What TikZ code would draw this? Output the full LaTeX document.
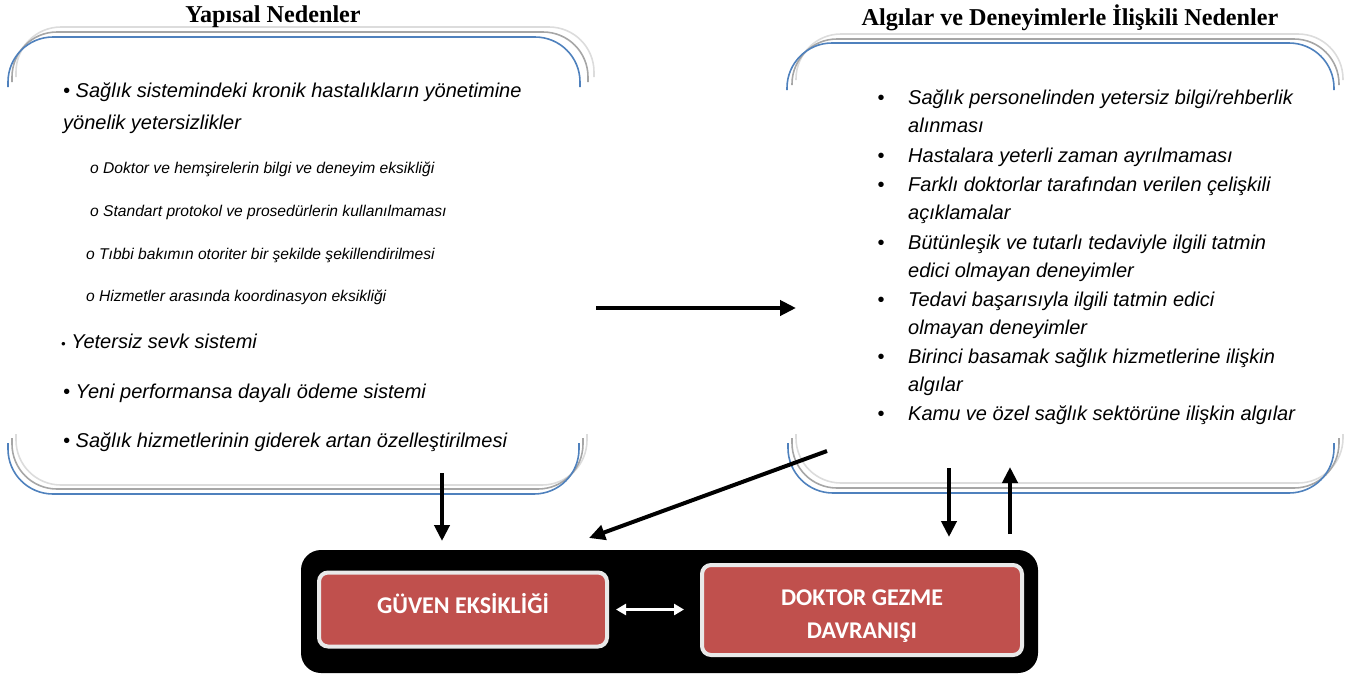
\documentclass[tikz,border=0pt]{standalone}
\usepackage{fontspec}
\setmainfont{Liberation Sans}
\newfontfamily\titlefont{Liberation Serif}
\newfontfamily\boxfont{Carlito}
\usetikzlibrary{arrows.meta}
\definecolor{brandblue}{HTML}{4F81BD}
\definecolor{midgray}{HTML}{A6A6A6}
\definecolor{lightgray2}{HTML}{DCDCDC}
\definecolor{redfill}{HTML}{C0504D}
\definecolor{boxborder}{HTML}{E9E9E9}
\tikzset{
  itemtext/.style={anchor=base west, inner sep=0pt, font=\fontsize{20}{24}\selectfont\itshape},
  subtext/.style={anchor=base west, inner sep=0pt, font=\fontsize{15.6}{18}\selectfont\itshape},
  bulletdot/.style={anchor=base, inner sep=0pt, font=\fontsize{20}{24}\selectfont},
  titletext/.style={inner sep=0pt, font=\titlefont\bfseries\fontsize{24.2}{28}\selectfont},
  blueline/.style={draw=brandblue, line width=1.6pt, rounded corners=45pt},
  grayline/.style={draw=midgray, line width=1.6pt, rounded corners=45pt},
  lightline/.style={draw=lightgray2, line width=1.6pt, rounded corners=45pt},
  bigarrow/.style={line width=4pt, -{Triangle[length=16pt,width=15pt]}},
  whitearrow/.style={draw=white, line width=3pt, {Triangle[length=10pt,width=11pt]}-{Triangle[length=10pt,width=11pt]}},
  panel/.style={fill=black, rounded corners=20pt, inner sep=0pt},
  redbox/.style={fill=redfill, draw=boxborder, line width=4pt, rounded corners=9pt, inner sep=0pt,
     text=white, font=\boxfont\bfseries\fontsize{24}{33}\selectfont},
}
\begin{document}
\begin{tikzpicture}[x=1pt,y=-1pt]
\useasboundingbox (0,0) rectangle (1349,675);

% ---------- left bracket box ----------
\draw[lightline] (16,77) -- (16,27) -- (594,27) -- (594,77);
\draw[grayline]  (12,82) -- (12,32) -- (588,32) -- (588,82);
\draw[blueline]  (8,87) -- (8,37) -- (580,37) -- (580,87);
\draw[lightline] (16,434) -- (16,485) -- (587,485) -- (587,434);
\draw[grayline]  (12,438) -- (12,489) -- (583,489) -- (583,438);
\draw[blueline]  (8,443) -- (8,494) -- (579,494) -- (579,443);

% ---------- right bracket box ----------
\draw[lightline] (796,80) -- (796,34) -- (1343,34) -- (1343,80);
\draw[grayline]  (792,85) -- (792,39) -- (1339,39) -- (1339,85);
\draw[blueline]  (787,90) -- (787,43) -- (1334,43) -- (1334,90);
\draw[lightline] (796,434) -- (796,483) -- (1343,483) -- (1343,434);
\draw[grayline]  (792,438) -- (792,488) -- (1339,488) -- (1339,438);
\draw[blueline]  (788,443) -- (788,493) -- (1334,493) -- (1334,443);

% ---------- titles ----------
\node[titletext] (ltitle) at (273,17) {Yapısal Nedenler};
\node[titletext] (rtitle) at (1070,18) {Algılar ve Deneyimlerle İlişkili Nedenler};

% ---------- left texts ----------
\node[itemtext] (l1a) at (63,97) {• Sağlık sistemindeki kronik hastalıkların yönetimine};
\node[itemtext] (l1b) at (63,129) {yönelik yetersizlikler};
\node[subtext] (s1) at (90,173) {o Doktor ve hemşirelerin bilgi ve deneyim eksikliği};
\node[subtext] (s2) at (90,216) {o Standart protokol ve prosedürlerin kullanılmaması};
\node[subtext] (s3) at (86,259) {o Tıbbi bakımın otoriter bir şekilde şekillendirilmesi};
\node[subtext] (s4) at (86,301) {o Hizmetler arasında koordinasyon eksikliği};
\node[itemtext] (l2) at (61,348) {{\fontsize{13}{14}\selectfont•} Yetersiz sevk sistemi};
\node[itemtext] (l3) at (63,398) {• Yeni performansa dayalı ödeme sistemi};
\node[itemtext] (l4) at (63,447) {• Sağlık hizmetlerinin giderek artan özelleştirilmesi};

% ---------- right texts ----------
\foreach \yy/\nm in {104/b1,162/b2,191/b3,249/b4,306/b5,363/b6,420/b7}
  \node[bulletdot] (\nm) at (881,\yy) {•};
\node[itemtext] (r1a) at (908,104) {Sağlık personelinden yetersiz bilgi/rehberlik};
\node[itemtext] (r1b) at (908,132) {alınması};
\node[itemtext] (r2)  at (908,162) {Hastalara yeterli zaman ayrılmaması};
\node[itemtext] (r3a) at (908,191) {Farklı doktorlar tarafından verilen çelişkili};
\node[itemtext] (r3b) at (908,219) {açıklamalar};
\node[itemtext] (r4a) at (908,249) {Bütünleşik ve tutarlı tedaviyle ilgili tatmin};
\node[itemtext] (r4b) at (908,277) {edici olmayan deneyimler};
\node[itemtext] (r5a) at (908,306) {Tedavi başarısıyla ilgili tatmin edici};
\node[itemtext] (r5b) at (908,334) {olmayan deneyimler};
\node[itemtext] (r6a) at (908,363) {Birinci basamak sağlık hizmetlerine ilişkin};
\node[itemtext] (r6b) at (908,391) {algılar};
\node[itemtext] (r7)  at (908,420) {Kamu ve özel sağlık sektörüne ilişkin algılar};

% ---------- bottom panel ----------
\node[panel, minimum width=737pt, minimum height=123pt] (panel) at (669.5,611.5) {};
\node[redbox, minimum width=288pt, minimum height=74pt] (trust) at (463,609.5)
  {\raisebox{6pt}[\height][\depth]{GÜVEN EKSİKLİĞİ}};
\node[redbox, minimum width=320pt, minimum height=90pt] (doctor) at (862,610)
  {\raisebox{-5.5pt}[\height][\depth]{\begin{tabular}{@{}c@{}}DOKTOR GEZME\\DAVRANIŞI\end{tabular}}};
\draw[whitearrow, shorten <=7pt, shorten >=16pt] (trust.east) -- (doctor.west |- trust.east);

% ---------- arrow end points ----------
\coordinate (hA) at (596,308);
\coordinate (hB) at (796,308);
\coordinate (dA) at (442,473);
\coordinate (dB) at (442,541);
\coordinate (gA) at (827,451);
\coordinate (gB) at (589,538);
\coordinate (rA) at (949,468);
\coordinate (rB) at (949,537);
\coordinate (uA) at (1010,534);
\coordinate (uB) at (1010,467);

\draw[bigarrow] (hA) -- (hB);
\draw[bigarrow] (dA) -- (dB);
\draw[bigarrow] (gA) -- (gB);
\draw[bigarrow] (rA) -- (rB);
\draw[bigarrow] (uA) -- (uB);
\end{tikzpicture}
\end{document}
